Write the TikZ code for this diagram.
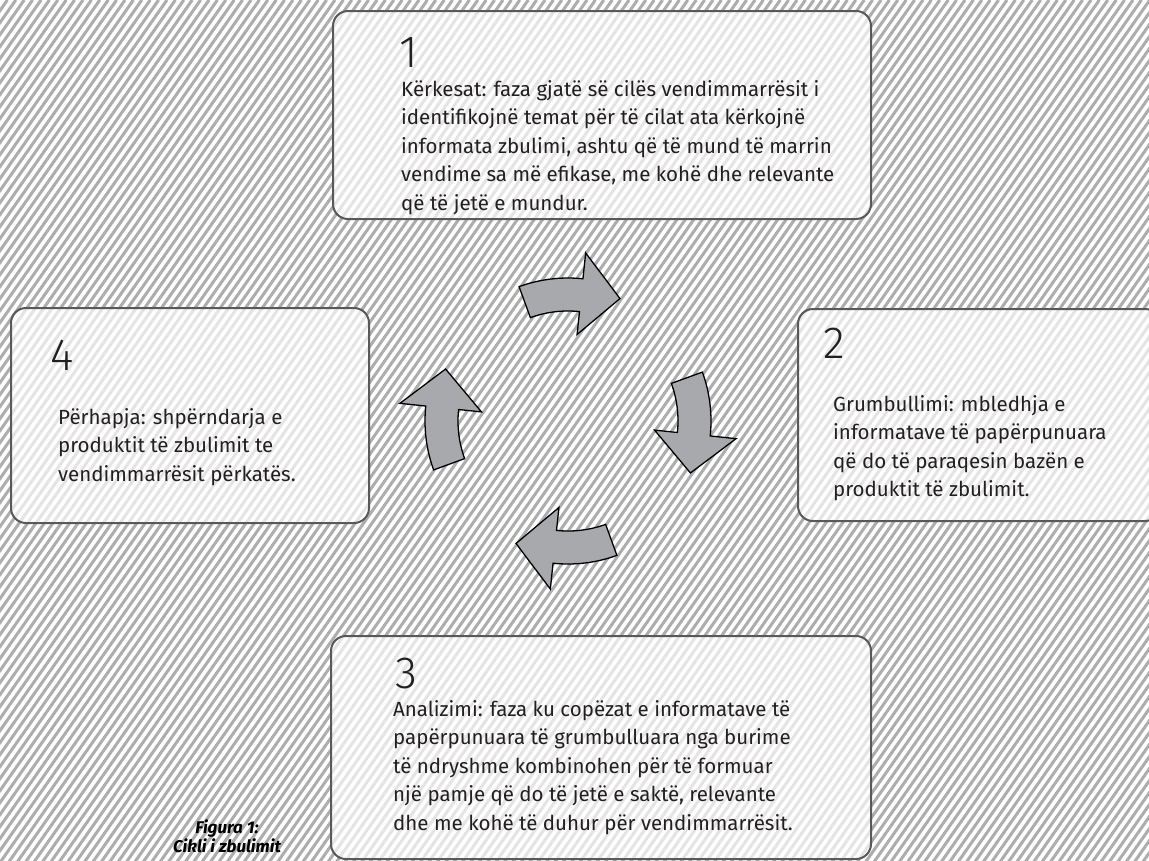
\documentclass[tikz,border=0pt]{standalone}
\usepackage{fontspec}
\setmainfont{Fira Sans}
\newfontfamily\numfont{Fira Sans}[UprightFont=* Light]

\definecolor{boxgray}{HTML}{58595B}
\definecolor{arrowgray}{HTML}{A7A9AC}
\definecolor{hatchgray}{HTML}{ADADAD}
\definecolor{inkgray}{HTML}{231F20}

\tikzset{
    stagebox/.style={draw=boxgray, line width=2pt, rounded corners=15pt,
        fill=white, fill opacity=0.68, text opacity=1, inner sep=0pt,
        anchor=north west},
    stagenum/.style={text=inkgray, inner sep=0pt, anchor=base west,
        font=\numfont\fontsize{45}{45}\selectfont},
    stagetext/.style={text=inkgray, inner sep=0pt, anchor=north west,
        align=left, font=\fontsize{20.5}{28.5}\selectfont},
    cyclearrow/.style={draw=black, line width=1.3pt, fill=arrowgray,
        line join=miter}
}

\begin{document}
\begin{tikzpicture}[x=1pt, y=-1pt]
\useasboundingbox (0,0) rectangle (1149,860);

% hatched background
\fill[white] (0,0) rectangle (1149,860);
\begin{scope}
    \clip (0,0) rectangle (1149,860);
    \foreach \i in {0,...,216}
        \draw[hatchgray, line width=3pt] ({\i*8.4-610},870) -- ++(609,-870);
\end{scope}

\begin{scope}[every node/.style={stagebox}]
    \node (box1) at (332,10) [minimum width=538pt, minimum height=208pt] {};
    \node (box2) at (797,308) [minimum width=362pt, minimum height=212pt] {};
    \node (box3) at (330,635) [minimum width=540pt, minimum height=223pt] {};
    \node (box4) at (10,307) [minimum width=358pt, minimum height=215pt] {};
\end{scope}

% 1st box
\node (num1) at (399,67) [stagenum] {1};
\node (txt1) at (401,80) [stagetext] {Kërkesat: faza gjatë së cilës vendimmarrësit i\\
    identifikojnë temat për të cilat ata kërkojnë\\
    informata zbulimi, ashtu që të mund të marrin\\
    vendime sa më efikase, me kohë dhe relevante\\
    që të jetë e mundur.};

% 2nd box
\node (num2) at (823,358) [stagenum] {2};
\node (txt2) at (833,395) [stagetext] {Grumbullimi: mbledhja e\\
    informatave të papërpunuara\\
    që do të paraqesin bazën e\\
    produktit të zbulimit.};

% 3rd box
\node (num3) at (395,688) [stagenum] {3};
\node (txt3) at (393,700) [stagetext] {Analizimi: faza ku copëzat e informatave të\\
    papërpunuara të grumbulluara nga burime\\
    të ndryshme kombinohen për të formuar\\
    një pamje që do të jetë e saktë, relevante\\
    dhe me kohë të duhur për vendimmarrësit.};

% 4th box
\node (num4) at (50,370) [stagenum] {4};
\node (txt4) at (58,408) [stagetext] {Përhapja: shpërndarja e\\
    produktit të zbulimit te\\
    vendimmarrësit përkatës.};

% cycle arrows
\begin{scope}[shift={(568,421)}, yscale=-1]
    \foreach \r in {0,-90,-180,-270}
        \draw[cyclearrow, rotate=\r] (110:143) arc[start angle=110, end angle=84, radius=143]
            -- (84:169) -- (67:133) -- (84:87) -- (84:110)
            arc[start angle=84, end angle=110, radius=110] -- cycle;
\end{scope}

\node (caption) at (227,820) [anchor=north, align=center, inner sep=0pt, text=black,
    font=\fontsize{17}{19}\selectfont\bfseries\itshape] {Figura 1:\\Cikli i zbulimit};
\end{tikzpicture}
\end{document}
